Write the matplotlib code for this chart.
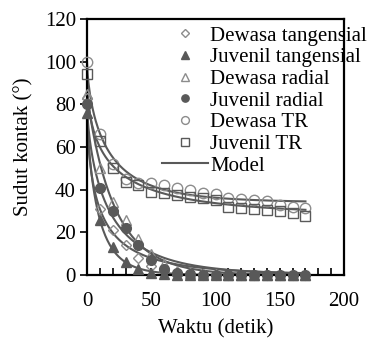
import numpy as np
import matplotlib.pyplot as plt
from matplotlib.ticker import MultipleLocator

# %% data

t = [0, 10, 20, 30, 40, 50, 60, 70, 80, 90, 100, 110, 120, 130, 140, 150, 160, 170]

dewasa_tang = [83, 31, 21, 14, 8, 4, 2, 1, 0.5, 0.3, 0.2, 0.1, 0, 0, 0, 0, 0, 0]
juvenil_tang = [76, 26, 13, 6, 3, 1, 0.3, 0, 0, 0, 0, 0, 0, 0, 0, 0, 0, 0]
dewasa_rad = [85, 50, 34, 26, 17, 10, 5, 2, 1, 0.5, 0.3, 0, 0, 0, 0, 0, 0, 0]
juvenil_rad = [80, 41, 30, 22, 14, 7, 3, 1, 0.5, 0.2, 0, 0, 0, 0, 0, 0, 0, 0]
dewasa_tr = [100, 66, 52, 45, 43, 43, 42, 41, 40, 38.5, 38, 36, 35.6, 35, 34.7, 33, 32, 31.4]
juvenil_tr = [94, 63, 50, 43.5, 42, 39, 38.4, 37.5, 36.6, 36, 35, 32, 31.4, 31, 30.5, 30, 29, 27.7]

# model parameters (start, rate, exponent, equilibrium) for each series
model_a = [83, 76, 85, 80, 100, 94]
model_k = [0.0972, 0.1094, 0.0455, 0.0557, 0.0604, 0.0544]
model_n = [0.54, 0.785, 0.93, 0.69, 0.68, 0.53]
model_c = [0, 0, 0, 0, 34, 28]

labels = ['Dewasa tangensial', 'Juvenil tangensial', 'Dewasa radial',
          'Juvenil radial', 'Dewasa TR', 'Juvenil TR']

# %% style

plt.rcParams['font.family'] = 'Liberation Serif'
dark = '#595959'
light = '#8c8c8c'
fs = 15

fig = plt.figure(figsize=(3.72, 3.42), dpi=100)
ax = fig.add_axes([87/372, 67/342, 257/372, 256/342])

series = [dewasa_tang, juvenil_tang, dewasa_rad, juvenil_rad, dewasa_tr, juvenil_tr]
markers = ['D', '^', '^', 'o', 'o', 's']
fills = ['none', dark, 'none', dark, 'none', 'none']
edges = [light, dark, light, dark, light, dark]
sizes = [5, 7, 7, 7, 7.5, 7]
zorders = [3, 3.5, 3, 3, 3, 3]

tt = np.linspace(0, 170, 300)
for a, k, n, c in zip(model_a, model_k, model_n, model_c):
    ax.plot(tt, c + (a - c) * np.exp(-(k * tt) ** n), color=dark, lw=1.5, zorder=2)

handles = []
for y, m, f, e, s, z, lab in zip(series, markers, fills, edges, sizes, zorders, labels):
    h, = ax.plot(t, y, ls='none', marker=m, mfc=f, mec=e, ms=s, mew=1.0,
                 label=lab, zorder=z, clip_on=False)
    handles.append(h)
mline, = ax.plot([], [], color=dark, lw=1.5, label='Model')
handles.append(mline)

ax.set_xlim(0, 200)
ax.set_ylim(0, 120)
ax.xaxis.set_major_locator(MultipleLocator(50))
ax.xaxis.set_minor_locator(MultipleLocator(10))
ax.yaxis.set_major_locator(MultipleLocator(20))
ax.tick_params(axis='x', which='both', direction='in', length=5, width=1.2, labelsize=fs, pad=12)
ax.tick_params(axis='y', direction='out', length=5, width=1.2, labelsize=fs, pad=3)
for sp in ax.spines.values():
    sp.set_linewidth(1.6)

ax.set_xlabel('Waktu (detik)', fontsize=fs, labelpad=6)
ax.set_ylabel('Sudut kontak (°)', fontsize=fs, labelpad=8)

leg = ax.legend(handles=handles, loc='upper left', bbox_to_anchor=(162/372, 1 - 26/342),
                bbox_transform=fig.transFigure, frameon=False, fontsize=fs,
                labelspacing=0.1, handlelength=2.2, handletextpad=0.1,
                borderpad=0, borderaxespad=0, markerscale=0.75)

plt.savefig('out.png', dpi=100)
